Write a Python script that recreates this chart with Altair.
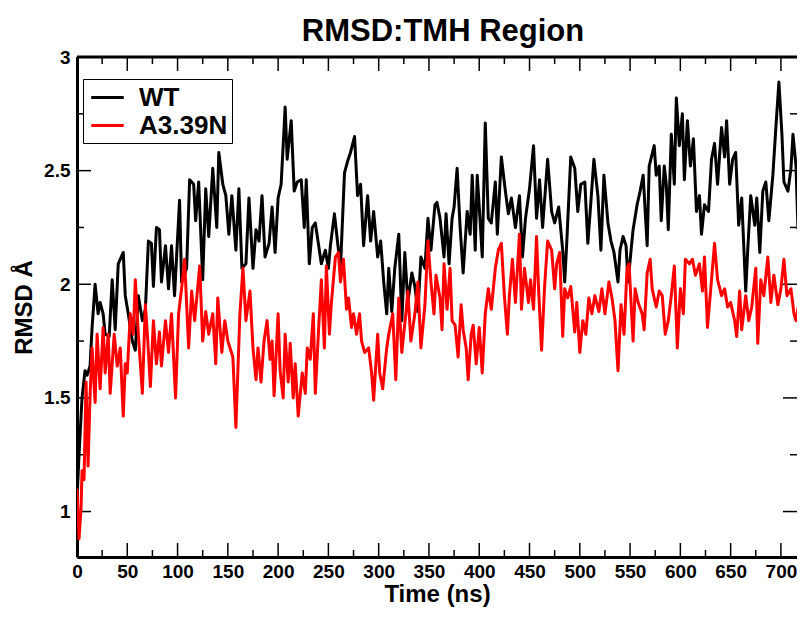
import altair as alt
import pandas as pd

# ---------------- data ----------------
series_names = ["WT", "A3.39N"]
series_colors = ["#000000", "#ff0000"]

wt_time = [0, 2, 5, 8, 10, 13, 15, 18, 21, 23,
           26, 28, 32, 35, 38, 41, 46, 48, 51, 55,
           58, 61, 65, 68, 71, 74, 76, 79, 82, 84,
           88, 91, 94, 97, 102, 104, 109, 112, 116, 118,
           121, 125, 128, 131, 135, 139, 141, 145, 148, 151,
           154, 158, 161, 164, 168, 171, 175, 178, 181, 184,
           187, 191, 194, 197, 200, 203, 207, 209, 213, 216,
           219, 223, 226, 228, 231, 234, 237, 240, 243, 247,
           250, 252, 256, 259, 262, 266, 269, 272, 276, 279,
           282, 285, 289, 292, 295, 299, 302, 305, 308, 310,
           313, 316, 320, 323, 326, 329, 333, 336, 339, 342,
           346, 349, 352, 356, 358, 361, 365, 367, 370, 373,
           375, 378, 381, 384, 388, 391, 393, 396, 398, 401,
           403, 406, 409, 412, 416, 418, 422, 426, 429, 432,
           436, 440, 443, 446, 450, 454, 457, 460, 463, 468,
           472, 475, 479, 483, 485, 487, 491, 495, 498, 501,
           505, 508, 511, 514, 518, 521, 524, 528, 531, 534,
           538, 540, 543, 546, 548, 551, 553, 557, 560, 563,
           567, 569, 574, 576, 579, 581, 584, 586, 588, 591,
           594, 596, 599, 602, 604, 607, 610, 613, 616, 619,
           621, 624, 628, 631, 634, 637, 641, 644, 646, 649,
           652, 655, 658, 661, 665, 667, 670, 674, 676, 679,
           682, 685, 688, 692, 695, 698, 701, 703, 707, 710,
           712, 715, 717]
wt_rmsd = [1.05, 1.25, 1.50, 1.62, 1.60, 1.64, 1.81, 2.00, 1.87, 1.92,
           1.87, 1.78, 1.77, 2.02, 1.80, 2.09, 2.14, 1.95, 1.87, 1.75,
           1.71, 1.95, 1.84, 1.89, 2.19, 2.18, 1.99, 2.25, 2.24, 2.01,
           2.17, 1.98, 2.17, 1.95, 2.37, 2.01, 2.07, 2.46, 2.44, 2.28,
           2.45, 2.02, 2.42, 2.21, 2.51, 2.25, 2.58, 2.44, 2.39, 2.22,
           2.39, 2.15, 2.42, 2.07, 2.09, 2.38, 2.07, 2.24, 2.19, 2.39,
           2.12, 2.18, 2.34, 2.14, 2.38, 2.44, 2.78, 2.55, 2.72, 2.41,
           2.45, 2.46, 2.25, 2.46, 2.09, 2.25, 2.27, 2.18, 2.09, 2.15,
           2.07, 2.17, 2.31, 2.19, 2.07, 2.49, 2.54, 2.58, 2.65, 2.39,
           2.44, 2.17, 2.39, 2.19, 2.32, 2.12, 2.19, 2.01, 1.87, 2.07,
           1.88, 2.07, 2.22, 1.84, 2.14, 1.92, 2.05, 1.99, 1.88, 2.12,
           2.07, 2.29, 2.15, 2.35, 2.36, 2.29, 2.12, 2.31, 2.09, 2.29,
           2.34, 2.51, 2.25, 2.05, 2.32, 2.22, 2.48, 2.15, 2.48, 2.27,
           2.12, 2.71, 2.29, 2.27, 2.45, 2.22, 2.56, 2.41, 2.31, 2.38,
           2.25, 2.39, 2.12, 2.29, 2.42, 2.61, 2.29, 2.46, 2.25, 2.55,
           2.32, 2.27, 2.34, 2.15, 2.01, 2.18, 2.56, 2.51, 2.32, 2.44,
           2.45, 2.18, 2.36, 2.55, 2.39, 2.15, 2.48, 2.27, 2.19, 2.14,
           2.01, 2.15, 2.21, 2.17, 2.01, 2.15, 2.24, 2.35, 2.41, 2.48,
           2.17, 2.52, 2.61, 2.48, 2.52, 2.28, 2.52, 2.44, 2.24, 2.66,
           2.44, 2.82, 2.61, 2.75, 2.46, 2.72, 2.52, 2.64, 2.32, 2.39,
           2.22, 2.35, 2.32, 2.55, 2.62, 2.44, 2.69, 2.56, 2.72, 2.44,
           2.55, 2.58, 2.26, 2.38, 1.97, 2.15, 2.39, 2.26, 2.38, 2.14,
           2.41, 2.45, 2.28, 2.48, 2.69, 2.89, 2.66, 2.45, 2.41, 2.51,
           2.66, 2.52, 2.24]

mut_time = [0, 2, 4, 5, 7, 9, 11, 13, 15, 18,
            20, 23, 26, 28, 31, 33, 37, 40, 43, 46,
            48, 50, 53, 56, 58, 61, 65, 68, 70, 73,
            76, 79, 82, 84, 88, 91, 94, 98, 101, 104,
            107, 111, 114, 117, 122, 125, 128, 131, 135, 138,
            140, 144, 147, 150, 155, 158, 162, 165, 168, 172,
            175, 178, 180, 183, 186, 189, 192, 194, 196, 200,
            202, 205, 207, 210, 212, 215, 217, 220, 224, 227,
            229, 232, 235, 237, 240, 243, 246, 248, 251, 253,
            257, 260, 262, 265, 268, 270, 273, 275, 278, 281,
            283, 286, 290, 293, 295, 299, 301, 304, 308, 310,
            314, 317, 320, 323, 327, 329, 332, 336, 339, 342,
            346, 349, 352, 355, 357, 361, 363, 365, 368, 371,
            373, 376, 379, 382, 384, 387, 389, 392, 394, 397,
            400, 403, 406, 409, 412, 416, 419, 422, 425, 428,
            430, 433, 436, 440, 442, 445, 449, 451, 454, 457,
            459, 462, 465, 468, 472, 475, 477, 480, 483, 485,
            488, 491, 495, 497, 500, 503, 506, 509, 512, 515,
            519, 522, 525, 529, 532, 535, 538, 541, 544, 547,
            549, 553, 555, 558, 562, 564, 567, 570, 572, 576,
            579, 582, 585, 588, 591, 594, 597, 600, 603, 605,
            609, 612, 615, 619, 622, 624, 627, 631, 634, 637,
            641, 644, 647, 650, 654, 656, 659, 661, 665, 668,
            671, 675, 677, 680, 683, 687, 690, 693, 697, 700,
            703, 706, 710, 713, 715, 718]
mut_rmsd = [1.10, 0.88, 1.01, 1.18, 1.14, 1.57, 1.20, 1.51, 1.72, 1.48,
            1.78, 1.54, 1.81, 1.61, 1.78, 1.52, 1.78, 1.64, 1.72, 1.42,
            1.65, 1.61, 1.87, 1.78, 2.02, 1.78, 1.52, 1.91, 1.78, 1.55,
            1.84, 1.65, 1.79, 1.64, 1.84, 1.70, 1.87, 1.50, 1.87, 1.98,
            2.11, 1.72, 1.97, 1.84, 2.08, 1.75, 1.88, 1.78, 1.87, 1.65,
            1.94, 1.70, 1.84, 1.75, 1.68, 1.37, 1.87, 2.07, 1.84, 1.97,
            1.72, 1.58, 1.72, 1.57, 1.75, 1.84, 1.67, 1.75, 1.51, 1.87,
            1.62, 1.50, 1.78, 1.57, 1.74, 1.50, 1.65, 1.42, 1.61, 1.52,
            1.72, 1.67, 1.87, 1.52, 1.78, 2.02, 1.72, 2.08, 1.78, 1.92,
            2.12, 2.14, 2.01, 2.11, 1.89, 1.94, 1.81, 1.87, 1.78, 1.87,
            1.75, 1.70, 1.72, 1.61, 1.49, 1.78, 1.61, 1.54, 1.72, 1.78,
            1.87, 1.58, 1.94, 1.70, 1.87, 1.97, 1.75, 1.87, 2.01, 1.72,
            1.91, 2.19, 2.01, 1.87, 2.04, 1.94, 1.80, 2.09, 1.89, 2.07,
            1.84, 1.82, 1.68, 1.91, 1.80, 1.72, 1.58, 1.78, 1.82, 1.65,
            1.81, 1.61, 1.87, 1.98, 1.89, 2.07, 2.15, 2.18, 1.95, 1.78,
            1.95, 2.11, 1.92, 2.22, 1.89, 2.07, 1.92, 2.02, 1.89, 2.21,
            1.98, 1.71, 1.99, 2.19, 2.15, 1.98, 2.09, 2.14, 1.77, 1.98,
            1.94, 1.99, 1.79, 1.92, 1.70, 1.84, 1.78, 1.94, 1.87, 1.95,
            1.88, 1.98, 1.87, 2.01, 1.94, 1.84, 1.62, 1.91, 1.78, 2.07,
            2.09, 1.75, 1.98, 1.92, 1.87, 1.80, 2.05, 2.11, 1.98, 1.90,
            1.97, 1.95, 1.78, 1.84, 1.95, 2.08, 1.72, 1.98, 1.87, 2.11,
            2.09, 2.11, 2.04, 2.09, 1.97, 2.12, 1.81, 2.02, 2.18, 2.02,
            1.95, 1.98, 1.90, 1.92, 1.84, 1.77, 1.97, 1.80, 1.95, 1.84,
            1.90, 2.07, 1.74, 2.02, 1.95, 2.12, 1.92, 2.04, 1.91, 1.98,
            2.11, 1.95, 1.98, 1.87, 1.84, 1.92]

x_domain = [0, 716]
y_domain = [0.8, 3.0]
x_major_ticks = [0, 50, 100, 150, 200, 250, 300, 350, 400, 450, 500, 550, 600, 650, 700]
x_minor_ticks = [25, 75, 125, 175, 225, 275, 325, 375, 425, 475, 525, 575, 625, 675]
y_major_ticks = [1.0, 1.5, 2.0, 2.5, 3.0]
y_minor_ticks = [1.25, 1.75, 2.25, 2.75]

# ---------------- tables ----------------
wt_df = pd.DataFrame({"time": wt_time, "rmsd": wt_rmsd, "series": series_names[0]})
mut_df = pd.DataFrame({"time": mut_time, "rmsd": mut_rmsd, "series": series_names[1]})

W, H = 720, 500
MAJOR, MINOR = 14, 7
FONT = "Liberation Sans"

x_scale = alt.Scale(domain=x_domain, nice=False, zero=False)
y_scale = alt.Scale(domain=y_domain, nice=False, zero=False)
color_scale = alt.Scale(domain=series_names, range=series_colors)

main_x_axis = alt.Axis(
    values=x_major_ticks, format="d", ticks=False, tickSize=0, grid=False,
    domain=True, domainColor="black", domainWidth=3,
    labelFont=FONT, labelFontSize=19, labelFontWeight="bold", labelColor="black",
    labelPadding=5, labelFlush=False, labelOverlap=False,
    title="Time (ns)", titleFont=FONT, titleFontSize=24, titleFontWeight="bold",
    titleColor="black", titlePadding=1,
)
main_y_axis = alt.Axis(
    values=y_major_ticks, format="~g", ticks=False, tickSize=0, grid=False,
    domain=True, domainColor="black", domainWidth=3,
    labelFont=FONT, labelFontSize=19, labelFontWeight="bold", labelColor="black",
    labelPadding=7, labelFlush=False, labelOverlap=False,
    title="RMSD Å", titleFont=FONT, titleFontSize=24, titleFontWeight="bold",
    titleColor="black", titlePadding=7,
)

legend = alt.Legend(
    orient="none", legendX=6, legendY=22, title=None,
    symbolType="M-1.25,0H1.25", symbolSize=676, symbolStrokeWidth=3,
    symbolOffset=6,
    labelFont=FONT, labelFontSize=26, labelFontWeight="bold", labelColor="black",
    labelOffset=17, rowPadding=0, padding=4,
    strokeColor="black", fillColor="white",
)


def x_tick_layer(values, y0, y1):
    return alt.Chart(pd.DataFrame({"val": values})).mark_rule(
        color="black", strokeWidth=1.5
    ).encode(
        x=alt.X("val:Q", scale=x_scale, axis=None),
        y=alt.value(y0), y2=alt.value(y1),
    )


def y_tick_layer(values, x0, x1):
    return alt.Chart(pd.DataFrame({"val": values})).mark_rule(
        color="black", strokeWidth=1.5
    ).encode(
        y=alt.Y("val:Q", scale=y_scale, axis=None),
        x=alt.value(x0), x2=alt.value(x1),
    )


tick_layers = [
    x_tick_layer(x_major_ticks, H, H - MAJOR),
    x_tick_layer(x_minor_ticks, H, H - MINOR),
    x_tick_layer(x_major_ticks, 0, MAJOR),
    x_tick_layer(x_minor_ticks, 0, MINOR),
    y_tick_layer(y_major_ticks, 0, MAJOR),
    y_tick_layer(y_minor_ticks, 0, MINOR),
    y_tick_layer(y_major_ticks, W, W - MAJOR),
    y_tick_layer(y_minor_ticks, W, W - MINOR),
]

# top frame line (the right frame edge lies outside the reference picture)
top_frame = alt.Chart(pd.DataFrame({"val": [y_domain[1]]})).mark_rule(
    color="black", strokeWidth=3
).encode(
    y=alt.Y("val:Q", scale=y_scale, axis=None),
    x=alt.X(datum=x_domain[0], scale=x_scale, axis=None),
    x2=alt.X2(datum=x_domain[1]),
)

wt_layer = alt.Chart(wt_df).mark_line(strokeWidth=3, strokeJoin="round", clip=True).encode(
    x=alt.X("time:Q", scale=x_scale, axis=main_x_axis),
    y=alt.Y("rmsd:Q", scale=y_scale, axis=main_y_axis),
    color=alt.Color("series:N", scale=color_scale, legend=legend),
)

mut_layer = alt.Chart(mut_df).mark_line(strokeWidth=3, strokeJoin="round", clip=True).encode(
    x=alt.X("time:Q", scale=x_scale, axis=None),
    y=alt.Y("rmsd:Q", scale=y_scale, axis=None),
    color=alt.Color("series:N", scale=color_scale, legend=legend),
)

chart = alt.layer(wt_layer, *tick_layers, top_frame, mut_layer).resolve_axis(
    x="independent", y="independent"
).properties(
    width=W, height=H,
    title=alt.Title("RMSD:TMH Region", font=FONT, fontSize=31, fontWeight="bold",
                    color="black", offset=0, anchor="middle", dx=6),
    autosize=alt.AutoSizeParams(type="none"),
    padding={"left": 69, "top": 49, "right": 0, "bottom": 50},
).configure_view(strokeWidth=0).configure(background="white")

chart.save("out.html", embed_options={"renderer": "svg", "actions": False})
